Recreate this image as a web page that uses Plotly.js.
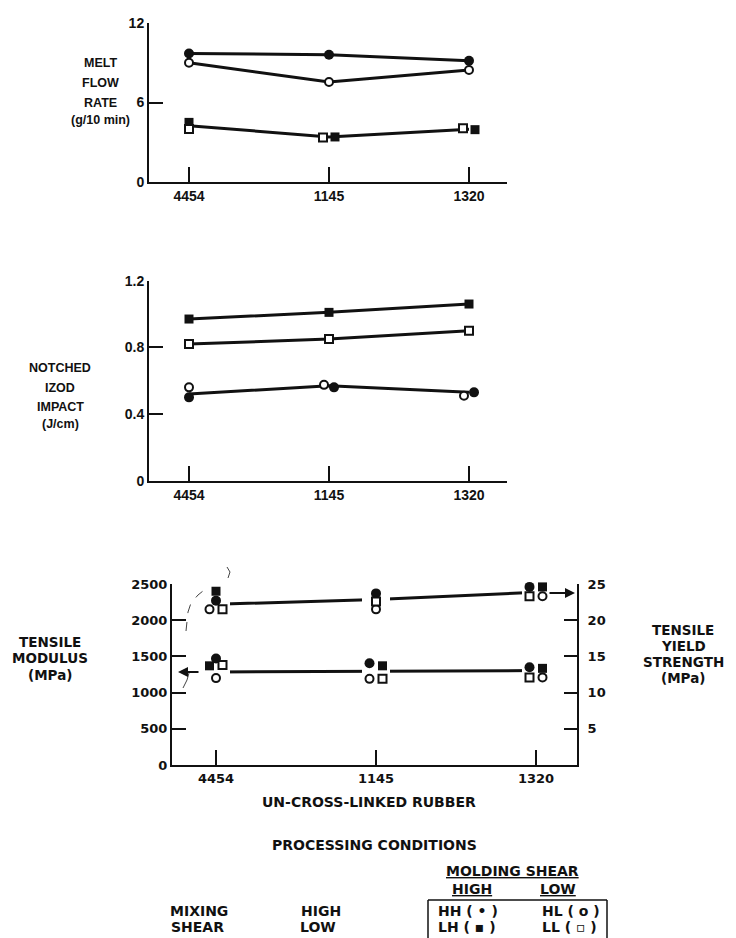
<!DOCTYPE html>
<html>
<head>
<meta charset="utf-8">
<script src="https://cdn.plot.ly/plotly-3.0.1.min.js"></script>
<style>
  html, body { margin: 0; padding: 0; background: #fff; }
  #chart { width: 736px; height: 938px; }
</style>
</head>
<body>
<div id="chart"></div>
<script>
// ---------------- DATA ----------------
const categories = ['4454', '1145', '1320'];

// Melt flow rate (g/10 min)
const mfrHH = [9.7, 9.6, 9.15];
const mfrHL = [9.0, 7.55, 8.45];
const mfrLH = [4.5, 3.4, 3.95];
const mfrLL = [4.0, 3.35, 4.05];
const mfrSquareLine = [4.25, 3.4, 3.98];
const mfrTicks = [0, 6, 12];

// Notched Izod impact (J/cm)
const izodHH = [0.50, 0.56, 0.53];
const izodHL = [0.56, 0.575, 0.51];
const izodLH = [0.97, 1.01, 1.06];
const izodLL = [0.82, 0.85, 0.90];
const izodCircleLine = [0.52, 0.57, 0.53];
const izodTicks = [0, 0.4, 0.8, 1.2];

// Tensile modulus (MPa), left axis
const modHH = [1470, 1405, 1350];
const modHL = [1200, 1190, 1210];
const modLH = [1370, 1370, 1335];
const modLL = [1380, 1190, 1210];
const modLine = [1285, 1295, 1305];
const modTicks = [0, 500, 1000, 1500, 2000, 2500];

// Tensile yield strength (MPa), right axis
const ysHH = [22.7, 23.7, 24.6];
const ysHL = [21.5, 21.5, 23.3];
const ysLH = [24.0, 25.2, 24.6];
const ysLL = [21.5, 22.6, 23.3];
const ysLine = [22.2, 22.85, 23.85];
const ysTicks = [5, 10, 15, 20, 25];

// ---------------- STYLE / LAYOUT HELPERS ----------------
const W = 736, H = 938;
const px = x => x / W;
const py = y => 1 - y / H;
const FONT = 'Liberation Sans, Arial, Helvetica, sans-serif';
const WIDE = 'DejaVu Sans, Verdana, sans-serif';
const INK = '#111';

// cluster slot of each marker (-1 left, 0 centre, +1 right) -- purely visual arrangement
const slots = {
  mfrHH: [0, 0, 0], mfrHL: [0, 0, 0], mfrLH: [0, 1, 1], mfrLL: [0, -1, -1],
  izodHH: [0, 1, 1], izodHL: [0, -1, -1], izodLH: [0, 0, 0], izodLL: [0, 0, 0],
  ysHH: [0, 0, -1], ysLH: [0, 0, 1], ysHL: [-1, 0, 1], ysLL: [1, 0, -1],
  modHH: [0, -1, -1], modLH: [-1, 1, 1], modHL: [0, -1, 1], modLL: [1, 1, -1]
};

const mk = {
  HH: { symbol: 'circle', size: 10, color: INK, line: { width: 0 } },
  HL: { symbol: 'circle', size: 8, color: '#fff', line: { color: INK, width: 2 } },
  LH: { symbol: 'square', size: 9, color: INK, line: { width: 0 } },
  LL: { symbol: 'square', size: 8, color: '#fff', line: { color: INK, width: 2 } }
};

// subplot frames (pixels)
const frames = [
  { x: 'x',  y: 'y',  xl: 149, xr: 507, yb: 182, yt: 23,  c0: 189, sp: 140, shift: 6, yr: [0, 12], ticks: mfrTicks, left: 'x4', right: 'x7',
    tf: { family: FONT, size: 14, color: INK, weight: 'bold' } },
  { x: 'x2', y: 'y2', xl: 149, xr: 507, yb: 480.7, yt: 280.7, c0: 189, sp: 140, shift: 5, yr: [0, 1.2], ticks: izodTicks, left: 'x5', right: 'x8',
    tf: { family: FONT, size: 14, color: INK, weight: 'bold' } },
  { x: 'x3', y: 'y3', xl: 172, xr: 577, yb: 765, yt: 584, c0: 216, sp: 160, shift: 6.5, yr: [0, 2500], ticks: modTicks, left: 'x6', right: 'x9',
    tf: { family: WIDE, size: 13, color: INK, weight: 'bold' } }
];

const layout = {
  width: W, height: H,
  margin: { l: 0, r: 0, t: 0, b: 0 },
  paper_bgcolor: '#fff', plot_bgcolor: 'rgba(0,0,0,0)',
  showlegend: false,
  font: { family: FONT, size: 13, color: INK, weight: 'bold' },
  annotations: [], shapes: []
};

function axKey(id) { return id.replace('x', 'xaxis').replace('y', 'yaxis'); }

frames.forEach((f, i) => {
  const r0 = -(f.c0 - f.xl) / f.sp, r1 = (f.xr - f.c0) / f.sp;
  const du = f.shift / f.sp;
  const dom = [px(f.xl), px(f.xr)];
  layout[axKey(f.x)] = {
    domain: dom, anchor: f.y, type: 'category', categoryorder: 'array', categoryarray: categories,
    range: [r0, r1], showline: true, linewidth: 2, linecolor: INK, ticks: 'inside', ticklen: 15,
    tickwidth: 2, tickcolor: INK, showgrid: false, zeroline: false, fixedrange: true,
    tickfont: f.tf
  };
  layout[axKey(f.left)] = {
    overlaying: f.x, anchor: f.y, type: 'category', categoryorder: 'array', categoryarray: categories,
    range: [r0 + du, r1 + du], visible: false
  };
  layout[axKey(f.right)] = {
    overlaying: f.x, anchor: f.y, type: 'category', categoryorder: 'array', categoryarray: categories,
    range: [r0 - du, r1 - du], visible: false
  };
  layout[axKey(f.y)] = {
    domain: [py(f.yb), py(f.yt)], anchor: f.x, range: f.yr, tickvals: f.ticks,
    showline: true, linewidth: 2, linecolor: INK, ticks: 'inside', ticklen: 14, tickwidth: 2,
    tickcolor: INK, showgrid: false, zeroline: false, fixedrange: true,
    tickfont: f.tf
  };
});
// right axis of the bottom plot
layout.yaxis4 = {
  overlaying: 'y3', anchor: 'x3', side: 'right', range: [0, 25], tickvals: ysTicks,
  showline: true, linewidth: 2, linecolor: INK, ticks: 'inside', ticklen: 13, tickwidth: 2,
  tickcolor: INK, showgrid: false, zeroline: false, fixedrange: true, ticklabelstandoff: 6,
  tickfont: { family: WIDE, size: 13, color: INK, weight: 'bold' }
};

const traces = [];
function lineTrace(vals, f, yid, mask) {
  const t = {
    x: categories, y: vals, xaxis: f.x, yaxis: yid || f.y, type: 'scatter',
    mode: mask ? 'lines+markers' : 'lines', cliponaxis: false, hoverinfo: 'skip',
    line: { color: INK, width: 3 }
  };
  if (mask) t.marker = { symbol: 'square', size: 28, color: '#fff', line: { width: 0 } };
  traces.push(t);
}
function markerTraces(vals, slot, f, style, yid) {
  [-1, 0, 1].forEach(s => {
    const y = vals.map((v, i) => slot[i] === s ? v : null);
    if (y.every(v => v === null)) return;
    traces.push({
      x: categories, y: y, type: 'scatter', mode: 'markers', cliponaxis: false, hoverinfo: 'skip',
      xaxis: s === -1 ? f.left : (s === 1 ? f.right : f.x), yaxis: yid || f.y,
      marker: style
    });
  });
}

// Melt flow rate
lineTrace(mfrHH, frames[0]);
lineTrace(mfrHL, frames[0]);
lineTrace(mfrSquareLine, frames[0]);
markerTraces(mfrHH, slots.mfrHH, frames[0], mk.HH);
markerTraces(mfrHL, slots.mfrHL, frames[0], mk.HL);
markerTraces(mfrLH, slots.mfrLH, frames[0], mk.LH);
markerTraces(mfrLL, slots.mfrLL, frames[0], mk.LL);

// Izod
lineTrace(izodLH, frames[1]);
lineTrace(izodLL, frames[1]);
lineTrace(izodCircleLine, frames[1]);
markerTraces(izodHH, slots.izodHH, frames[1], mk.HH);
markerTraces(izodHL, slots.izodHL, frames[1], mk.HL);
markerTraces(izodLH, slots.izodLH, frames[1], mk.LH);
markerTraces(izodLL, slots.izodLL, frames[1], mk.LL);

// Tensile
lineTrace(modLine, frames[2], 'y3', true);
lineTrace(ysLine, frames[2], 'y4', true);
markerTraces(modHH, slots.modHH, frames[2], mk.HH, 'y3');
markerTraces(modHL, slots.modHL, frames[2], mk.HL, 'y3');
markerTraces(modLH, slots.modLH, frames[2], mk.LH, 'y3');
markerTraces(modLL, slots.modLL, frames[2], mk.LL, 'y3');
markerTraces(ysHH, slots.ysHH, frames[2], mk.HH, 'y4');
markerTraces(ysHL, slots.ysHL, frames[2], mk.HL, 'y4');
markerTraces(ysLH, slots.ysLH, frames[2], mk.LH, 'y4');
markerTraces(ysLL, slots.ysLL, frames[2], mk.LL, 'y4');

// ---------------- TEXT ----------------
function txt(t, x, y, size, family, anchor) {
  layout.annotations.push({
    text: t, x: px(x), y: py(y), xref: 'paper', yref: 'paper', showarrow: false,
    xanchor: anchor || 'center', yanchor: 'middle',
    font: { family: family || FONT, size: size || 12.5, color: INK, weight: 'bold' }
  });
}
[['MELT', 63], ['FLOW', 83], ['RATE', 103], ['(g/10 min)', 120]].forEach(a => txt(a[0], 100, a[1]));
[['NOTCHED', 368], ['IZOD', 388], ['IMPACT', 407], ['(J/cm)', 424]].forEach(a => txt(a[0], 60, a[1]));
[['TENSILE', 642], ['MODULUS', 658], ['(MPa)', 675]].forEach(a => txt(a[0], 50, a[1], 13.5, WIDE));
[['TENSILE', 630], ['YIELD', 646], ['STRENGTH', 662], ['(MPa)', 678]].forEach(a => txt(a[0], 683, a[1], 13.5, WIDE));

txt('UN-CROSS-LINKED RUBBER', 369, 802, 14, WIDE);
txt('PROCESSING CONDITIONS', 374, 845, 14, WIDE);
txt('<u>MOLDING SHEAR</u>', 512, 871, 14, WIDE);
txt('<u>HIGH</u>', 472, 889, 14, WIDE);
txt('<u>LOW</u>', 558, 889, 14, WIDE);
txt('MIXING', 199, 911, 14, WIDE);
txt('SHEAR', 197, 927, 14, WIDE);
txt('HIGH', 321, 911, 14, WIDE);
txt('LOW', 318, 927, 14, WIDE);
txt('HH ( \u2022 )', 436, 911, 14, WIDE, 'left');
txt('HL ( o )', 540, 911, 14, WIDE, 'left');
txt('LH ( \u25AA )', 436, 927, 14, WIDE, 'left');
txt('LL ( \u25AB )', 540, 927, 14, WIDE, 'left');

// axis pointers
layout.annotations.push({ text: '', x: px(575), y: py(593), xref: 'paper', yref: 'paper', ax: -27, ay: 0,
  showarrow: true, arrowhead: 2, arrowsize: 1, arrowwidth: 2, arrowcolor: INK });
layout.annotations.push({ text: '', x: px(178), y: py(672), xref: 'paper', yref: 'paper', ax: 22, ay: 0,
  showarrow: true, arrowhead: 2, arrowsize: 1, arrowwidth: 2, arrowcolor: INK });

// legend box
function seg(x0, y0, x1, y1, w) {
  layout.shapes.push({ type: 'line', xref: 'paper', yref: 'paper', x0: px(x0), y0: py(y0), x1: px(x1), y1: py(y1),
    line: { color: INK, width: w || 1.5 } });
}
seg(428, 900, 607, 900);
seg(428, 900, 428, 938);
seg(607, 900, 607, 938);

// faint hand-drawn marks on the original
function pathP(pts, dash) {
  let d = 'M ' + px(pts[0][0]) + ' ' + py(pts[0][1]);
  for (let k = 1; k < pts.length; k++) d += ' L ' + px(pts[k][0]) + ' ' + py(pts[k][1]);
  layout.shapes.push({ type: 'path', xref: 'paper', yref: 'paper', path: d,
    line: { color: '#444', width: 1, dash: dash || 'solid' } });
}
pathP([[186, 631], [188, 612], [191, 603], [198, 595], [208, 587]], 'dash');
pathP([[227, 567], [230, 572], [228, 578]]);
pathP([[189, 673], [187, 680], [183, 688]]);

Plotly.newPlot('chart', traces, layout, { staticPlot: true, displayModeBar: false });
</script>
</body>
</html>
